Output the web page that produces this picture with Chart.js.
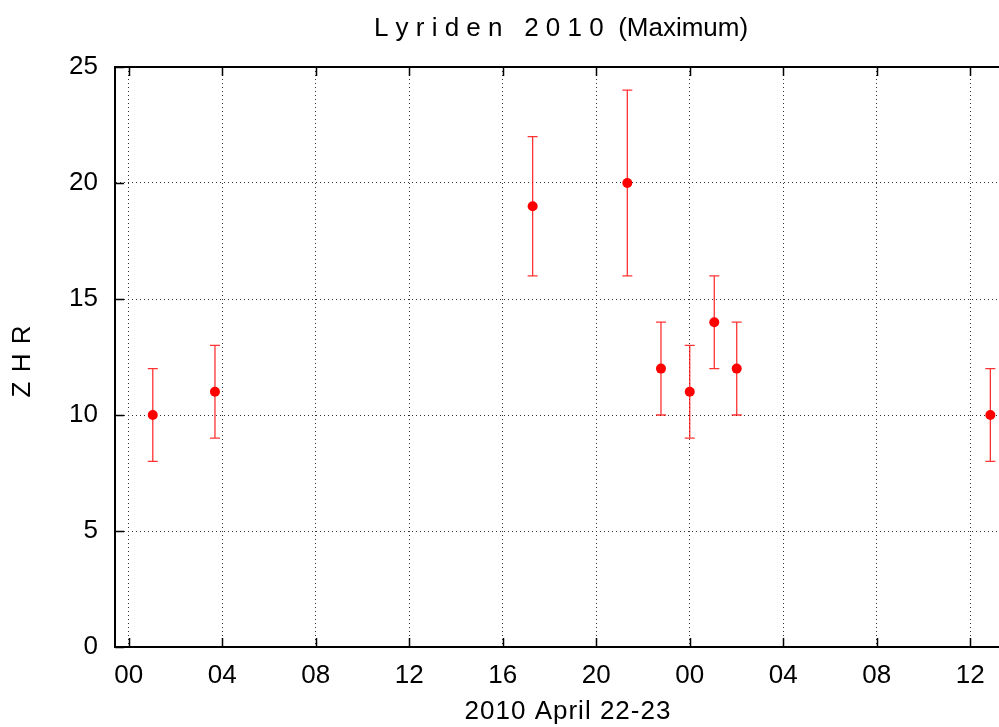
<!DOCTYPE html>
<html>
<head>
<meta charset="utf-8">
<script src="https://cdn.jsdelivr.net/npm/chart.js@4.4.1/dist/chart.umd.min.js"></script>
<style>
  html, body { margin: 0; padding: 0; background: #fff; }
  #wrap { width: 999px; height: 727px; }
</style>
</head>
<body>
<div id="wrap"><canvas id="c" width="999" height="727"></canvas></div>
<script>
// ---- data (hours since 2010 April 22, 00 UT) ----
const hours   = [1.03, 3.69, 17.28, 21.33, 22.77, 24.0, 25.05, 26.01, 36.86];
const zhr     = [10, 11, 19, 20, 12, 11, 14, 12, 10];
const zhrLow  = [8, 9, 16, 16, 10, 9, 12, 10, 8];
const zhrHigh = [12, 13, 22, 24, 14, 13, 16, 14, 12];
const xTickHours  = [0, 4, 8, 12, 16, 20, 24, 28, 32, 36];
const xTickLabels = ['00', '04', '08', '12', '16', '20', '00', '04', '08', '12'];
const yTicks = [0, 5, 10, 15, 20, 25];
const titleText = 'L y r i d e n   2 0 1 0  (Maximum)';
const xTitleText = '2010 April 22-23';
const yTitleText = 'Z H R';

const FONT = "'Liberation Sans', Arial, Helvetica, sans-serif";

const errorBars = {
  id: 'errorBars',
  beforeDatasetsDraw(chart) {
    const { ctx, scales: { x, y } } = chart;
    ctx.save();
    ctx.strokeStyle = 'rgba(255,0,0,0.8)';
    ctx.lineWidth = 1.3;
    const cap = 5;
    hours.forEach((h, i) => {
      const px = x.getPixelForValue(h);
      const lo = y.getPixelForValue(zhrLow[i]);
      const hi = y.getPixelForValue(zhrHigh[i]);
      ctx.beginPath();
      ctx.moveTo(px, lo); ctx.lineTo(px, hi);
      ctx.moveTo(px - cap, lo); ctx.lineTo(px + cap, lo);
      ctx.moveTo(px - cap, hi); ctx.lineTo(px + cap, hi);
      ctx.stroke();
    });
    ctx.restore();
  }
};

const frame = {
  id: 'frame',
  afterDraw(chart) {
    const { ctx, chartArea: a, scales: { x, y } } = chart;
    ctx.save();
    ctx.strokeStyle = '#000';
    // top border
    ctx.lineWidth = 2;
    ctx.beginPath();
    ctx.moveTo(a.left - 1, a.top); ctx.lineTo(a.right + 1, a.top);
    ctx.stroke();
    // inward ticks
    ctx.lineWidth = 1.5;
    const tl = 9;
    ctx.beginPath();
    xTickHours.forEach(v => {
      const px = Math.round(x.getPixelForValue(v)) + 0.5;
      ctx.moveTo(px, a.bottom); ctx.lineTo(px, a.bottom - tl);
      ctx.moveTo(px, a.top); ctx.lineTo(px, a.top + tl);
    });
    yTicks.forEach(v => {
      const py = Math.round(y.getPixelForValue(v)) + 0.5;
      ctx.moveTo(a.left, py); ctx.lineTo(a.left + tl, py);
    });
    ctx.stroke();
    // texts
    ctx.fillStyle = '#000';
    ctx.font = '26px ' + FONT;
    ctx.textAlign = 'center';
    ctx.textBaseline = 'middle';
    ctx.fillText(titleText, 561, 29);
    ctx.letterSpacing = '1px';
    ctx.fillText(xTitleText, 568, 712);
    ctx.translate(23, 361);
    ctx.rotate(-Math.PI / 2);
    ctx.fillText(yTitleText, 0, 0);
    ctx.restore();
  }
};

new Chart(document.getElementById('c'), {
  type: 'scatter',
  data: {
    datasets: [{
      data: hours.map((h, i) => ({ x: h, y: zhr[i] })),
      backgroundColor: '#ff0000',
      borderColor: '#ff0000',
      borderWidth: 0,
      pointRadius: 5,
      pointHoverRadius: 5,
      clip: false
    }]
  },
  options: {
    responsive: false,
    animation: false,
    devicePixelRatio: 1,
    layout: { autoPadding: false, padding: { top: 67, left: 0, right: 0, bottom: 0 } },
    plugins: { legend: { display: false }, tooltip: { enabled: false }, title: { display: false } },
    scales: {
      x: {
        type: 'linear',
        min: -0.586,
        max: 37.23,
        afterBuildTicks: s => { s.ticks = xTickHours.map(v => ({ value: v })); },
        afterFit: s => { s.height = 80; s.paddingLeft = 0; s.paddingRight = 0; },
        ticks: {
          callback: v => xTickLabels[xTickHours.indexOf(v)],
          font: { family: FONT, size: 26 },
          color: '#000',
          padding: 13,
          maxRotation: 0,
          autoSkip: false
        },
        grid: { color: '#333', lineWidth: 1, drawTicks: false },
        border: { display: true, color: '#000', width: 2, dash: [1, 3] }
      },
      y: {
        min: 0,
        max: 25,
        afterBuildTicks: s => { s.ticks = yTicks.map(v => ({ value: v })); },
        afterFit: s => { s.width = 115; s.paddingTop = 0; s.paddingBottom = 0; },
        ticks: {
          font: { family: FONT, size: 26 },
          color: '#000',
          padding: 17
        },
        grid: { color: '#333', lineWidth: 1, drawTicks: false },
        border: { display: true, color: '#000', width: 2, dash: [1, 3] }
      }
    }
  },
  plugins: [errorBars, frame]
});
</script>
</body>
</html>
